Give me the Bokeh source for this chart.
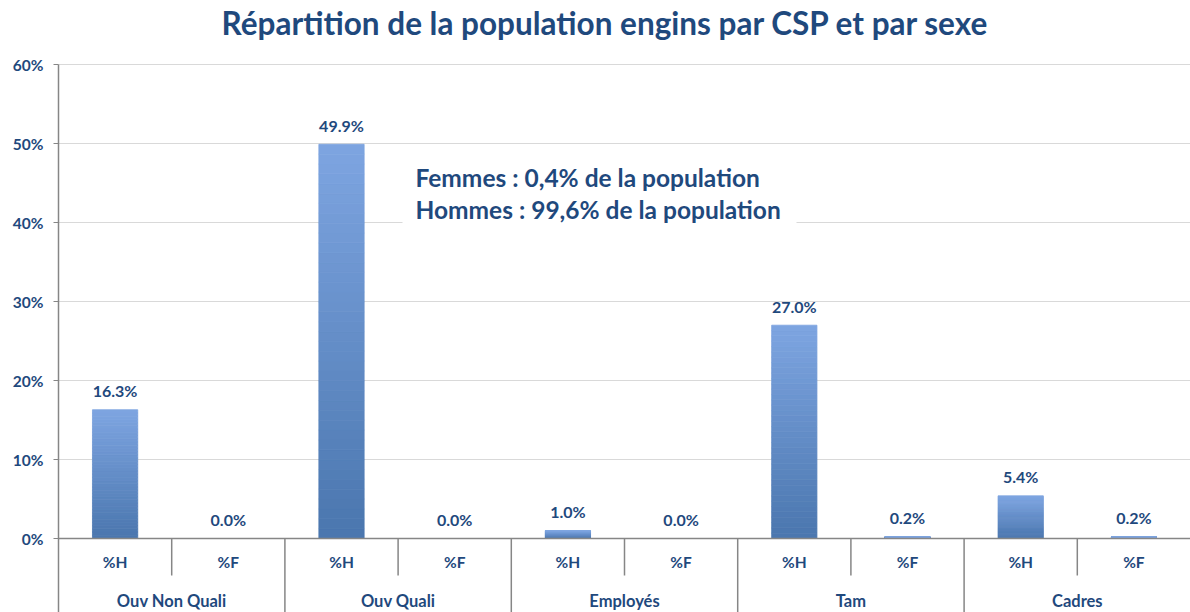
from bokeh.plotting import figure
from bokeh.models import Range1d, FixedTicker, Label, Span, BoxAnnotation
from bokeh.core.properties import value
from bokeh.embed import file_html
from bokeh.resources import INLINE

# ---- data ----
groups = ["Ouv Non Quali", "Ouv Quali", "Employés", "Tam", "Cadres"]
subs = ["%H", "%F"]
values = [16.3, 0.0, 49.9, 0.0, 1.0, 0.0, 27.0, 0.2, 5.4, 0.2]
y_ticks = [0, 10, 20, 30, 40, 50, 60]
y_tick_labels = ["0%", "10%", "20%", "30%", "40%", "50%", "60%"]
title = "Répartition de la population engins par CSP et par sexe"
note_lines = ["Femmes : 0,4% de la population", "Hommes : 99,6% de la population"]

# ---- style ----
FONT = "Lato"
TXT = "#1F497D"
GRID = "#D9D9D9"
AXIS = "#868686"
PX = 7.9  # pixels per percentage point
Y0 = 538  # pixel row of 0%
Y_BOTTOM = -(612 - Y0) / PX
Y_TOP = Y0 / PX
XPX = (1190 - 58) / 10.0

n = len(groups) * len(subs)
centers = [i + 0.5 for i in range(n)]

p = figure(width=1190, height=612, output_backend="svg", toolbar_location=None,
           x_range=Range1d(0, n), y_range=Range1d(Y_BOTTOM, Y_TOP),
           min_border_left=58, min_border_right=0, min_border_top=0, min_border_bottom=0)
p.outline_line_color = None
p.xaxis.visible = False
p.xgrid.visible = False
p.ygrid.grid_line_color = GRID
p.ygrid.grid_line_width = 1

ax = p.yaxis[0]
ax.ticker = FixedTicker(ticks=y_ticks)
ax.major_label_overrides = {t: l for t, l in zip(y_ticks, y_tick_labels)}
ax.bounds = (Y_BOTTOM, y_ticks[-1])
ax.minor_tick_line_color = None
ax.major_tick_in = 0
ax.major_tick_out = 5
ax.major_tick_line_color = AXIS
ax.axis_line_color = AXIS
ax.axis_line_width = 1.5
ax.major_label_standoff = 10
ax.major_label_text_font = FONT
ax.major_label_text_font_style = "bold"
ax.major_label_text_font_size = "15.5px"
ax.major_label_text_color = TXT

# gradient bars (vertical bands)
def mix(c1, c2, t):
    a = [int(c1[i:i + 2], 16) for i in (1, 3, 5)]
    b = [int(c2[i:i + 2], 16) for i in (1, 3, 5)]
    return "#%02x%02x%02x" % tuple(round(a[k] + (b[k] - a[k]) * t) for k in range(3))

NB = 40
bx, bb, bt, bc = [], [], [], []
for c, v in zip(centers, values):
    if v <= 0:
        continue
    for k in range(NB):
        bx.append(c)
        bb.append(v * k / NB)
        bt.append(v * (k + 1) / NB)
        bc.append(mix("#4A76AE", "#7EA5E1", (k + 0.5) / NB))
p.vbar(x=bx, bottom=bb, top=bt, width=0.4, fill_color=bc, line_color=bc, line_width=0.8)

# zero line
p.add_layout(Span(location=0, dimension="width", line_color=AXIS, line_width=1.5))

# separators
sub_sep = [i for i in range(1, n) if i % 2 == 1]
grp_sep = [i for i in range(1, n) if i % 2 == 0]
p.segment(x0=sub_sep, y0=[0] * len(sub_sep), x1=sub_sep, y1=[-37 / PX] * len(sub_sep),
          line_color=AXIS, line_width=1.5)
p.segment(x0=grp_sep, y0=[0] * len(grp_sep), x1=grp_sep, y1=[Y_BOTTOM] * len(grp_sep),
          line_color=AXIS, line_width=1.5)

# value labels
p.text(x=centers, y=values, text=[f"{v:.1f}%" for v in values], y_offset=-19,
       text_align="center", text_baseline="middle", text_font=value(FONT),
       text_font_style="bold", text_font_size="16px", text_color=TXT)

# sub-category labels
p.text(x=centers, y=[0] * n, text=[subs[i % 2] for i in range(n)], y_offset=23,
       text_align="center", text_baseline="middle", text_font=value(FONT),
       text_font_style="bold", text_font_size="15.5px", text_color=TXT)

# group labels
gcenters = [2 * g + 1 for g in range(len(groups))]
p.text(x=gcenters, y=[0] * len(groups), text=groups, y_offset=62,
       text_align="center", text_baseline="middle", text_font=value(FONT),
       text_font_style="bold", text_font_size="16.5px", text_color=TXT)

# title
p.text(x=[(605 - 58) / XPX], y=[(Y0 - 22) / PX], text=[title], text_align="center",
       text_baseline="middle", text_font=value(FONT), text_font_style="bold",
       text_font_size="31.5px", text_color=TXT)

# note box (white background over gridlines)
p.add_layout(BoxAnnotation(left=(402 - 58) / XPX, right=(796 - 58) / XPX,
                           top=(Y0 - 158) / PX, bottom=(Y0 - 228) / PX,
                           fill_color="white", fill_alpha=1.0, line_color=None))
for i, line in enumerate(note_lines):
    p.add_layout(Label(x=(415 - 58) / XPX, y=(Y0 - 177 - 32 * i) / PX, text=line,
                       text_baseline="middle", text_align="left", text_font=FONT,
                       text_font_style="bold", text_font_size="24.5px", text_color=TXT))

open("out.html", "w").write(file_html(p, INLINE))
